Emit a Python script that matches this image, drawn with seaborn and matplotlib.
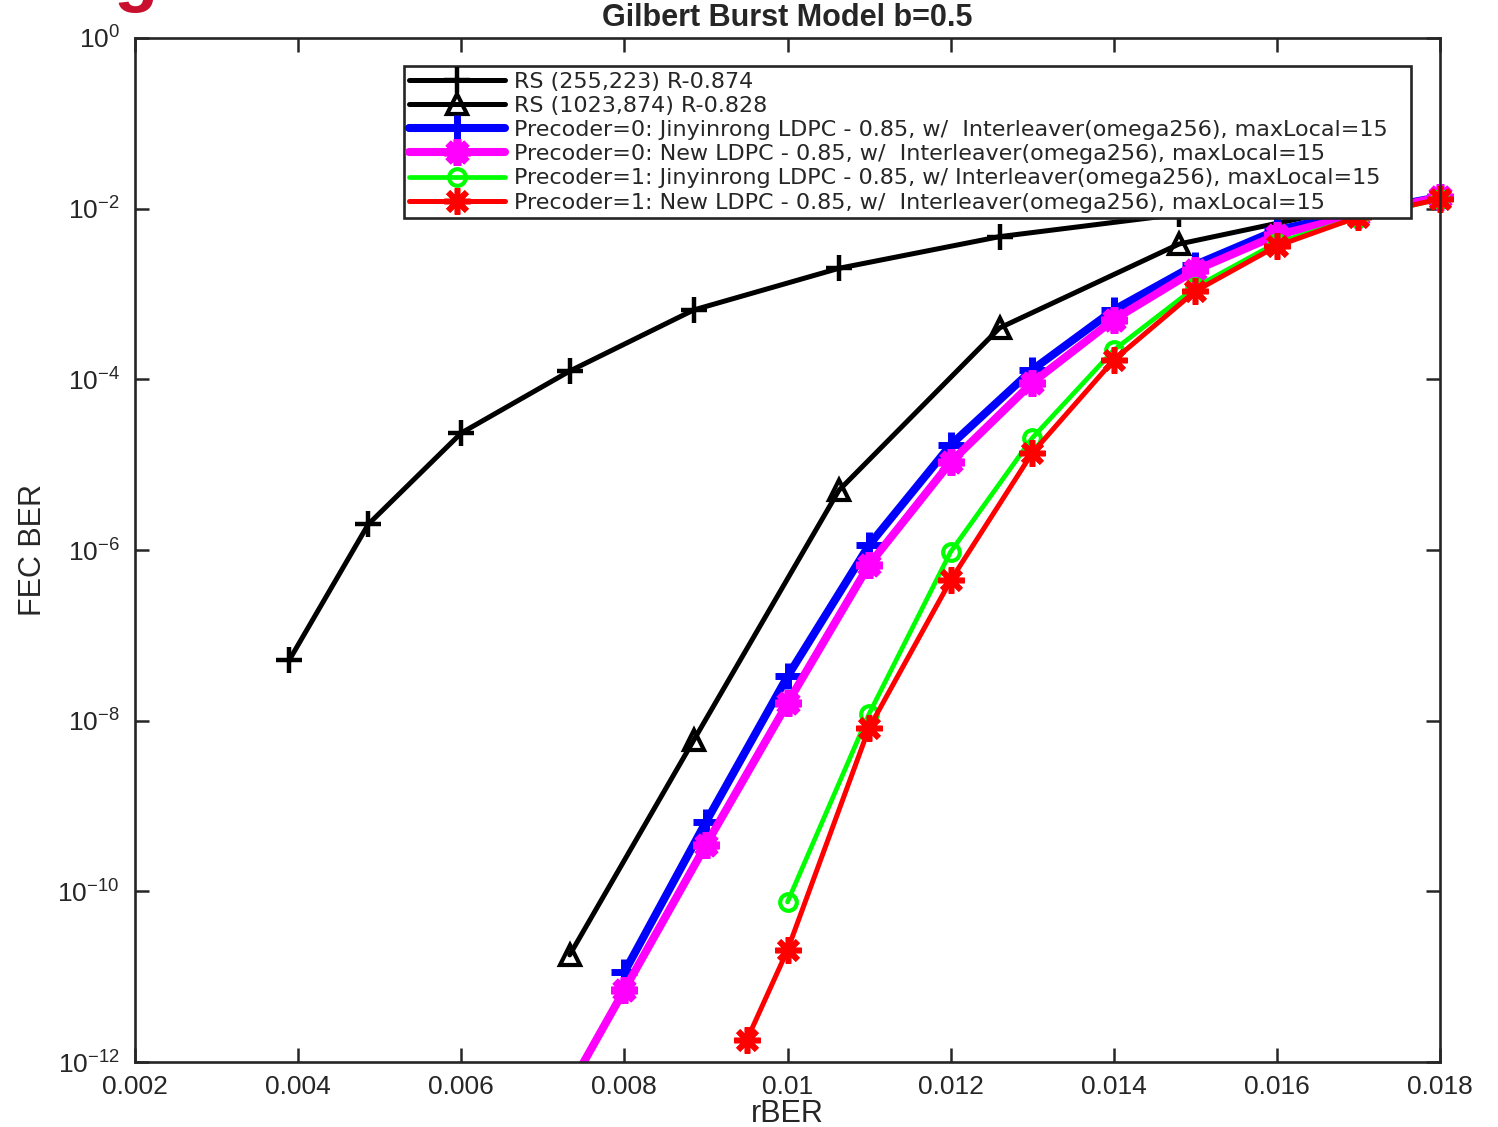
import matplotlib
matplotlib.use("Agg")
import matplotlib.pyplot as plt
import seaborn as sns
from matplotlib.ticker import NullLocator, FixedLocator
from matplotlib.transforms import Bbox, TransformedBbox

# ---------------------------------------------------------------
# Datos (rBER vs FEC BER)

rber_rs255 = [0.00389, 0.00486, 0.0060, 0.00733, 0.00885, 0.01063, 0.0126, 0.0148]
fec_rs255 = [5.1e-8, 2.0e-6, 2.35e-5, 1.25e-4, 6.5e-4, 2.0e-3, 4.7e-3, 8.6e-3]

rber_rs1023 = [0.00733, 0.00885, 0.01063, 0.0126, 0.0148, 0.0166]
fec_rs1023 = [1.8e-11, 5.9e-9, 5.0e-6, 4.0e-4, 3.85e-3, 8.9e-3]

rber_p0_jin = [0.008, 0.009, 0.010, 0.011, 0.012, 0.013, 0.014, 0.015, 0.016, 0.017, 0.018]
fec_p0_jin = [1.13e-11, 6.5e-10, 3.3e-8, 1.14e-6, 1.7e-5, 1.29e-4, 6.5e-4, 2.2e-3, 5.6e-3, 9.1e-3, 1.37e-2]

rber_p0_new = [0.007, 0.008, 0.009, 0.010, 0.011, 0.012, 0.013, 0.014, 0.015, 0.016, 0.017, 0.018]
fec_p0_new = [1.4e-13, 7.0e-12, 3.5e-10, 1.6e-8, 6.7e-7, 1.07e-5, 9.1e-5, 5.0e-4, 1.9e-3, 4.9e-3, 8.5e-3, 1.37e-2]

rber_p1_jin = [0.010, 0.011, 0.012, 0.013, 0.014, 0.015, 0.016, 0.017, 0.018]
fec_p1_jin = [7.5e-11, 1.2e-8, 9.5e-7, 2.05e-5, 2.2e-4, 1.2e-3, 4.0e-3, 7.8e-3, 1.3e-2]

rber_p1_new = [0.0095, 0.010, 0.011, 0.012, 0.013, 0.014, 0.015, 0.016, 0.017, 0.018]
fec_p1_new = [1.8e-12, 2.05e-11, 8.2e-9, 4.4e-7, 1.37e-5, 1.68e-4, 1.08e-3, 3.65e-3, 8.0e-3, 1.3e-2]

labels = [
    "RS (255,223) R-0.874",
    "RS (1023,874) R-0.828",
    "Precoder=0: Jinyinrong LDPC - 0.85, w/  Interleaver(omega256), maxLocal=15",
    "Precoder=0: New LDPC - 0.85, w/  Interleaver(omega256), maxLocal=15",
    "Precoder=1: Jinyinrong LDPC - 0.85, w/ Interleaver(omega256), maxLocal=15",
    "Precoder=1: New LDPC - 0.85, w/  Interleaver(omega256), maxLocal=15",
]

x_ticks = [0.002, 0.004, 0.006, 0.008, 0.01, 0.012, 0.014, 0.016, 0.018]
x_ticklabels = ["0.002", "0.004", "0.006", "0.008", "0.01", "0.012", "0.014", "0.016", "0.018"]
y_ticks = [1e-12, 1e-10, 1e-8, 1e-6, 1e-4, 1e-2, 1e0]

# ---------------------------------------------------------------
sns.set_style("ticks")
plt.rcParams["font.family"] = ["Liberation Sans", "DejaVu Sans"]
plt.rcParams["mathtext.fontset"] = "custom"
plt.rcParams["mathtext.rm"] = "Liberation Sans"
plt.rcParams["mathtext.it"] = "Liberation Sans"
plt.rcParams["mathtext.default"] = "regular"

fig = plt.figure(figsize=(14.98, 11.27), dpi=100)
ax = fig.add_axes([135 / 1498, 1 - 1062 / 1127, 1305 / 1498, 1024 / 1127])

asterisk = (8, 2, 0)
series = [
    (rber_rs255, fec_rs255, "black", "+", 3.6, 19, 3.2),
    (rber_rs1023, fec_rs1023, "black", "^", 3.6, 15, 3.0),
    (rber_p0_jin, fec_p0_jin, "#0000ff", "+", 5.8, 19, 5.0),
    (rber_p0_new, fec_p0_new, "#ff00ff", asterisk, 5.8, 19, 5.5),
    (rber_p1_jin, fec_p1_jin, "#00ff00", "o", 3.4, 12, 3.0),
    (rber_p1_new, fec_p1_new, "#ff0000", asterisk, 3.6, 19, 4.0),
]

for (xs, ys, col, mk, lw, ms, mew), lab in zip(series, labels):
    sns.lineplot(x=xs, y=ys, ax=ax, color=col, marker=mk, linewidth=lw,
                 markersize=ms, markeredgewidth=mew, markeredgecolor=col,
                 markerfacecolor="none", label=lab, sort=False, estimator=None)

ax.set_yscale("log")
ax.set_xlim(0.002, 0.018)
ax.set_ylim(1e-12, 1e0)

# dejar que los marcadores del borde derecho sobresalgan
clip = TransformedBbox(Bbox([[-0.05, 0.0], [1.05, 1.05]]), ax.transAxes)
for ln in ax.get_lines():
    ln.set_clip_box(clip)

ax.xaxis.set_major_locator(FixedLocator(x_ticks))
ax.set_xticklabels(x_ticklabels)
ax.yaxis.set_major_locator(FixedLocator(y_ticks))
ax.yaxis.set_minor_locator(NullLocator())
ax.xaxis.set_minor_locator(NullLocator())

ax.tick_params(axis="both", which="major", direction="in", length=10, width=1.8,
               top=True, right=True, labelsize=19, colors="#262626")
ax.tick_params(axis="x", pad=9)
ax.tick_params(axis="y", pad=11)
for sp in ax.spines.values():
    sp.set_visible(True)
    sp.set_linewidth(1.9)
    sp.set_color("#262626")

ax.set_xlabel("rBER", fontsize=22, color="#262626", labelpad=0)
ax.set_ylabel("FEC BER", fontsize=22, color="#262626", labelpad=7)
ax.set_title("Gilbert Burst Model b=0.5", fontsize=22, fontweight="bold", pad=9)

leg = ax.legend(loc="upper left", bbox_to_anchor=(0.206, 0.80, 0.772, 0.1727),
                mode="expand", borderaxespad=0,
                prop={"family": "DejaVu Sans", "size": 16}, frameon=True,
                fancybox=False, edgecolor="#262626", framealpha=1,
                handlelength=4.3, handletextpad=0.4, labelspacing=0.19,
                borderpad=0.25, numpoints=1)
leg.get_frame().set_linewidth(1.9)

# resto de un titulo rojo recortado arriba a la izquierda
fig.text(0.076, 1.002, "g", fontsize=52, fontweight="bold", color="#c8102e",
         va="baseline")

fig.savefig("out.png", dpi=100)
